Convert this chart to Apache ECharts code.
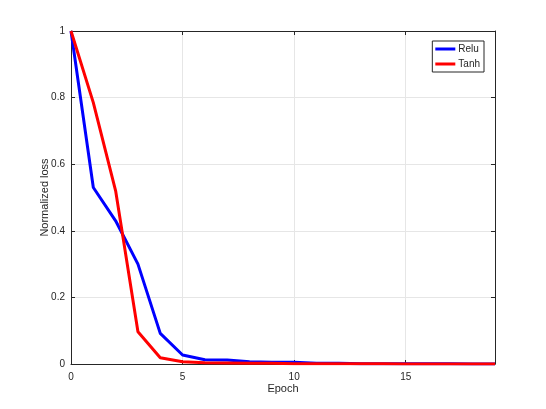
<!DOCTYPE html>
<html>
<head>
<meta charset="utf-8">
<script src="https://cdn.jsdelivr.net/npm/echarts@6/dist/echarts.min.js"></script>
<style>
  html, body { margin: 0; padding: 0; background: #fff; }
  #chart { width: 546px; height: 409px; }
</style>
</head>
<body>
<div id="chart"></div>
<script>
// epochs 0..19
var epochs = [0, 1, 2, 3, 4, 5, 6, 7, 8, 9, 10, 11, 12, 13, 14, 15, 16, 17, 18, 19];
// normalized loss per epoch
var reluLoss = [1, 0.53, 0.43, 0.30, 0.092, 0.027, 0.013, 0.012, 0.007, 0.005, 0.005, 0.002, 0.002, 0.001, 0.001, 0.001, 0.001, 0.001, 0, 0];
var tanhLoss = [1, 0.785, 0.52, 0.097, 0.019, 0.007, 0.004, 0.003, 0.002, 0.002, 0.001, 0.001, 0.001, 0.001, 0.001, 0, 0, 0, 0, 0];

function pairs(ys) {
  return epochs.map(function (x, i) { return [x, ys[i]]; });
}

var chart = echarts.init(document.getElementById("chart"));
var font = "Liberation Sans";
var tickFont = { color: "#262626", fontSize: 10, fontFamily: font };
var axisLine = { show: true, onZero: false, lineStyle: { color: "#262626", width: 1 } };
var ticks = { show: true, inside: true, length: 4, lineStyle: { color: "#262626" } };

chart.setOption({
  animation: false,
  backgroundColor: "#fff",
  grid: { left: 71, right: 51, top: 31, bottom: 45, containLabel: false },
  legend: {
    right: 62,
    top: 41,
    orient: "vertical",
    itemWidth: 20,
    itemHeight: 3,
    itemGap: 5,
    padding: [3, 4, 3, 3],
    borderColor: "#262626",
    borderWidth: 1,
    backgroundColor: "#fff",
    icon: "rect",
    textStyle: { color: "#262626", fontSize: 10, fontFamily: font, padding: [0, 0, 0, -2] },
    data: ["Relu", "Tanh"]
  },
  xAxis: [
    {
      type: "value",
      min: 0,
      max: 19,
      interval: 5,
      name: "Epoch",
      nameLocation: "middle",
      nameGap: 19,
      nameMoveOverlap: false,
      nameTextStyle: { color: "#262626", fontSize: 11, fontFamily: font },
      axisLine: axisLine,
      axisTick: ticks,
      axisLabel: Object.assign({ margin: 8, showMaxLabel: false }, tickFont),
      splitLine: { show: true, lineStyle: { color: "#e6e6e6", width: 1 } }
    },
    {
      type: "value",
      position: "top",
      min: 0,
      max: 19,
      interval: 5,
      axisLine: axisLine,
      axisTick: ticks,
      axisLabel: { show: false },
      splitLine: { show: false }
    }
  ],
  yAxis: [
    {
      type: "value",
      min: 0,
      max: 1,
      interval: 0.2,
      name: "Normalized loss",
      nameLocation: "middle",
      nameGap: 21,
      nameMoveOverlap: false,
      nameTextStyle: { color: "#262626", fontSize: 11, fontFamily: font },
      axisLine: axisLine,
      axisTick: ticks,
      axisLabel: Object.assign({ margin: 6, formatter: function (v) { return String(+v.toFixed(1)); } }, tickFont),
      splitLine: { show: true, lineStyle: { color: "#e6e6e6", width: 1 } }
    },
    {
      type: "value",
      position: "right",
      min: 0,
      max: 1,
      interval: 0.2,
      axisLine: axisLine,
      axisTick: ticks,
      axisLabel: { show: false },
      splitLine: { show: false }
    }
  ],
  series: [
    {
      name: "Relu",
      type: "line",
      data: pairs(reluLoss),
      showSymbol: false,
      symbol: "none",
      color: "#0000ff",
      lineStyle: { color: "#0000ff", width: 3 },
      z: 3
    },
    {
      name: "Tanh",
      type: "line",
      data: pairs(tanhLoss),
      showSymbol: false,
      symbol: "none",
      color: "#ff0000",
      lineStyle: { color: "#ff0000", width: 3 },
      z: 4
    }
  ]
});
</script>
</body>
</html>
